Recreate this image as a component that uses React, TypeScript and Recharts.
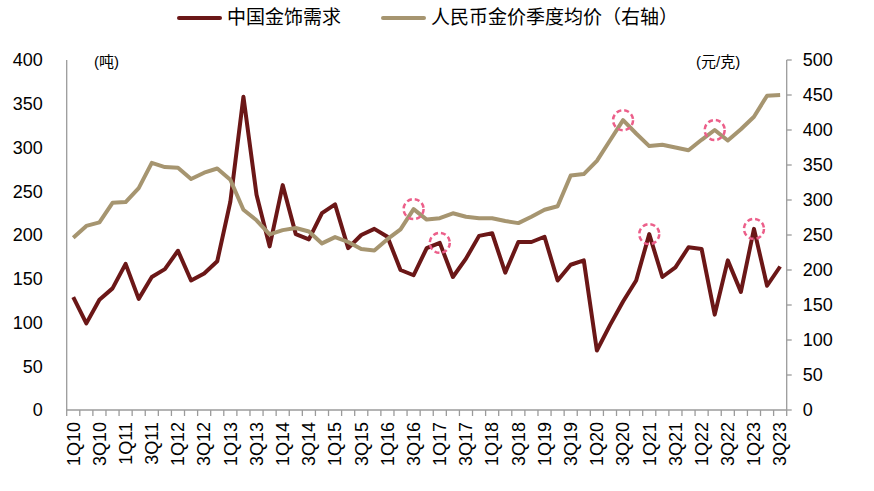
import React from 'react';
import { LineChart, Line, XAxis, YAxis, ReferenceDot, Legend, Customized } from 'recharts';

const quarters = [
  '1Q10', '2Q10', '3Q10', '4Q10', '1Q11', '2Q11', '3Q11', '4Q11',
  '1Q12', '2Q12', '3Q12', '4Q12', '1Q13', '2Q13', '3Q13', '4Q13',
  '1Q14', '2Q14', '3Q14', '4Q14', '1Q15', '2Q15', '3Q15', '4Q15',
  '1Q16', '2Q16', '3Q16', '4Q16', '1Q17', '2Q17', '3Q17', '4Q17',
  '1Q18', '2Q18', '3Q18', '4Q18', '1Q19', '2Q19', '3Q19', '4Q19',
  '1Q20', '2Q20', '3Q20', '4Q20', '1Q21', '2Q21', '3Q21', '4Q21',
  '1Q22', '2Q22', '3Q22', '4Q22', '1Q23', '2Q23', '3Q23',
];

// 中国金饰需求 (吨), left axis
const jewelryDemand = [
  129, 99, 126, 139, 167, 127, 152, 161, 182, 148,
  156, 170, 238, 358, 246, 187, 257, 201, 195, 225,
  235, 185, 200, 207, 198, 160, 154, 185, 191, 152,
  173, 199, 202, 157, 192, 192, 198, 148, 166, 171,
  68, 97, 124, 148, 201, 152, 163, 186, 184, 109,
  171, 135, 207, 142, 164,
];

// 人民币金价季度均价 (元/克), right axis
const goldPriceCny = [
  246, 263, 268, 296, 297, 317, 353, 347, 346, 330,
  339, 345, 329, 286, 271, 251, 257, 260, 255, 238,
  247, 240, 230, 228, 244, 258, 287, 272, 274, 281,
  276, 274, 274, 270, 267, 276, 286, 291, 335, 337,
  356, 385, 414, 395, 377, 379, 375, 371, 386, 400,
  385, 401, 419, 449, 450,
];

const leftTicks = [0, 50, 100, 150, 200, 250, 300, 350, 400];
const rightTicks = [0, 50, 100, 150, 200, 250, 300, 350, 400, 450, 500];

const demandHighlights = ['1Q17', '1Q21', '1Q23'];
const priceHighlights = ['3Q16', '3Q20', '2Q22'];

const seriesNames = ['中国金饰需求', '人民币金价季度均价（右轴）'];

const DEMAND_COLOR = '#6B1717';
const PRICE_COLOR = '#A69570';
const RING_COLOR = '#EC5F8A';
const AXIS_COLOR = '#9B9B9B';
const FONT = '"Liberation Sans", Arial, "Noto Sans CJK SC", sans-serif';

const data = quarters.map((q, i) => ({
  q,
  demand: jewelryDemand[i],
  price: goldPriceCny[i],
}));

const QuarterTick = (props: any) => {
  const { x, y, payload } = props;
  const i: number = payload?.index ?? props.index ?? 0;
  const half: number = payload?.offset || 720 / quarters.length / 2;
  const ly = y + 12;
  return (
    <g>
      <line x1={x - half} y1={y} x2={x - half} y2={y + 6} stroke={AXIS_COLOR} strokeWidth={1.3} />
      {i === quarters.length - 1 && (
        <line x1={x + half} y1={y} x2={x + half} y2={y + 6} stroke={AXIS_COLOR} strokeWidth={1.3} />
      )}
      {i % 2 === 0 && (
        <text
          x={x}
          y={ly}
          transform={`rotate(-90, ${x}, ${ly})`}
          textAnchor="end"
          dy="0.35em"
          fontSize={18}
          fontFamily={FONT}
          fill="#000"
        >
          {payload.value}
        </text>
      )}
    </g>
  );
};

const legendLayout = [
  { left: 177, color: DEMAND_COLOR },
  { left: 381, color: PRICE_COLOR },
];

const LegendContent = () => (
  <div style={{ position: 'relative', width: 874, height: 36, fontFamily: FONT, fontSize: 19, color: '#000' }}>
    {seriesNames.map((name, k) => (
      <React.Fragment key={name}>
        <span
          style={{
            position: 'absolute',
            left: legendLayout[k].left,
            top: 16,
            width: 45,
            height: 4,
            borderRadius: 2,
            background: legendLayout[k].color,
          }}
        />
        <span
          style={{
            position: 'absolute',
            left: legendLayout[k].left + 50,
            top: 6,
            lineHeight: '24px',
            whiteSpace: 'nowrap',
          }}
        >
          {name}
        </span>
      </React.Fragment>
    ))}
  </div>
);

const UnitLabels = () => (
  <g fontFamily={FONT} fontSize={15} fill="#000">
    <text x={94} y={62} dy="0.35em">(吨)</text>
    <text x={696} y={62} dy="0.35em">(元/克)</text>
  </g>
);

export default function App() {
  return (
    <div style={{ position: 'absolute', left: 0, top: 0, width: 874, height: 491, background: '#fff' }}>
      <LineChart
        width={874}
        height={491}
        data={data}
        margin={{ top: 24, right: 0, bottom: 0, left: 0 }}
      >
        <Legend
          verticalAlign="top"
          align="left"
          content={<LegendContent />}
          wrapperStyle={{ top: 0, left: 0, width: 874, height: 36 }}
        />
        <XAxis
          dataKey="q"
          scale="band"
          interval={0}
          height={81}
          tickSize={0}
          tickMargin={0}
          tickLine={false}
          axisLine={{ stroke: AXIS_COLOR, strokeWidth: 1.3 }}
          tick={<QuarterTick />}
        />
        <YAxis
          yAxisId="left"
          orientation="left"
          width={66.7}
          domain={[0, 400]}
          ticks={leftTicks}
          interval={0}
          tickLine={false}
          tickSize={0}
          tickMargin={24}
          axisLine={{ stroke: AXIS_COLOR, strokeWidth: 1.3 }}
          tick={{ fontSize: 18, fill: '#000', fontFamily: FONT }}
        />
        <YAxis
          yAxisId="right"
          orientation="right"
          width={87.3}
          domain={[0, 500]}
          ticks={rightTicks}
          interval={0}
          tickSize={5}
          tickMargin={11}
          tickLine={{ stroke: AXIS_COLOR, strokeWidth: 1.3 }}
          axisLine={{ stroke: AXIS_COLOR, strokeWidth: 1.3 }}
          tick={{ fontSize: 18, fill: '#000', fontFamily: FONT }}
        />
        <Line
          yAxisId="left"
          type="linear"
          dataKey="demand"
          name={seriesNames[0]}
          stroke={DEMAND_COLOR}
          strokeWidth={4}
          strokeLinejoin="round"
          dot={false}
          activeDot={false}
          isAnimationActive={false}
        />
        <Line
          yAxisId="right"
          type="linear"
          dataKey="price"
          name={seriesNames[1]}
          stroke={PRICE_COLOR}
          strokeWidth={4}
          strokeLinejoin="round"
          dot={false}
          activeDot={false}
          isAnimationActive={false}
        />
        {demandHighlights.map((q) => (
          <ReferenceDot
            key={`d-${q}`}
            yAxisId="left"
            x={q}
            y={jewelryDemand[quarters.indexOf(q)]}
            r={10}
            fill="none"
            stroke={RING_COLOR}
            strokeWidth={2.5}
            strokeDasharray="5 3"
          />
        ))}
        {priceHighlights.map((q) => (
          <ReferenceDot
            key={`p-${q}`}
            yAxisId="right"
            x={q}
            y={goldPriceCny[quarters.indexOf(q)]}
            r={10}
            fill="none"
            stroke={RING_COLOR}
            strokeWidth={2.5}
            strokeDasharray="5 3"
          />
        ))}
        <Customized component={<UnitLabels />} />
      </LineChart>
    </div>
  );
}
